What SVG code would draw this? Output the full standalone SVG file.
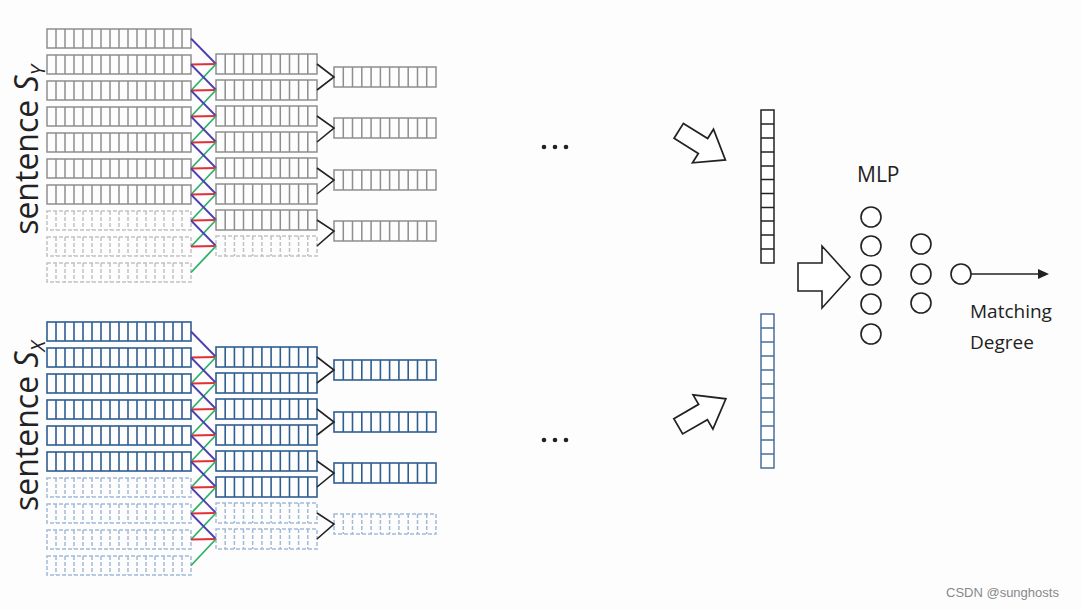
<svg xmlns="http://www.w3.org/2000/svg" width="1082" height="609" viewBox="0 0 1082 609">
<style>
.g{stroke:#8e8e8e;stroke-width:1.5;fill:none}
.gd{stroke:#c2c2c2;stroke-width:1.5;fill:none;stroke-dasharray:4 2}
.b{stroke:#2f5e91;stroke-width:1.6;fill:none}
.bd{stroke:#a3bad6;stroke-width:1.5;fill:none;stroke-dasharray:4 2}
.k{stroke:#222;stroke-width:1.6;fill:none}
.t{font-family:"Open Sans","Liberation Sans",sans-serif;fill:#222}
.c{fill:#fff;stroke:#222;stroke-width:1.6}
.ar{fill:#fff;stroke:#222;stroke-width:1.6;stroke-linejoin:miter}
</style>
<defs>
<g id="L"><rect x="0" y="0" width="144" height="19"/><path d="M9 0v19M18 0v19M27 0v19M36 0v19M45 0v19M54 0v19M63 0v19M72 0v19M81 0v19M90 0v19M99 0v19M108 0v19M117 0v19M126 0v19M135 0v19"/></g>
<g id="M"><rect x="0" y="0" width="101" height="20"/><path d="M9.2 0v20M18.4 0v20M27.5 0v20M36.7 0v20M45.9 0v20M55.1 0v20M64.3 0v20M73.5 0v20M82.6 0v20M91.8 0v20"/></g>
<g id="R"><rect x="0" y="0" width="102" height="20"/><path d="M9.3 0v20M18.5 0v20M27.8 0v20M37.1 0v20M46.4 0v20M55.6 0v20M64.9 0v20M74.2 0v20M83.5 0v20M92.7 0v20"/></g>
<g id="X" stroke-width="1.8" fill="none"><path d="M0 0L25 25.5" stroke="#4b3fb0"/><path d="M0 26L25 25.5" stroke="#e0303a"/><path d="M0 52L25 25.5" stroke="#2eb06a"/></g>
<path id="A" d="M-26 -8H0V-18L24 0L0 18V8H-26Z"/>
</defs>
<rect width="1082" height="609" fill="#fdfdfd"/>
<g id="sentenceY">
<g class="g">
<use href="#L" x="47" y="29"/><use href="#L" x="47" y="55"/><use href="#L" x="47" y="81"/><use href="#L" x="47" y="107"/><use href="#L" x="47" y="133"/><use href="#L" x="47" y="159"/><use href="#L" x="47" y="185"/>
<use href="#M" x="216" y="54"/><use href="#M" x="216" y="80"/><use href="#M" x="216" y="106"/><use href="#M" x="216" y="132"/><use href="#M" x="216" y="158"/><use href="#M" x="216" y="184"/><use href="#M" x="216" y="210"/>
<use href="#R" x="334" y="67"/><use href="#R" x="334" y="118"/><use href="#R" x="334" y="170"/><use href="#R" x="334" y="221"/>
</g>
<g class="gd">
<use href="#L" x="47" y="211"/><use href="#L" x="47" y="237"/><use href="#L" x="47" y="263"/>
<use href="#M" x="216" y="236"/>
</g>
<text class="t" font-size="32" transform="translate(38,150) rotate(-90)" text-anchor="middle">sentence <tspan font-style="italic">S</tspan><tspan font-style="italic" font-size="20" dy="7">Y</tspan></text>
</g>
<g id="sentenceX">
<g class="b">
<use href="#L" x="47" y="322"/><use href="#L" x="47" y="348"/><use href="#L" x="47" y="374"/><use href="#L" x="47" y="400"/><use href="#L" x="47" y="426"/><use href="#L" x="47" y="452"/>
<use href="#M" x="216" y="347"/><use href="#M" x="216" y="373"/><use href="#M" x="216" y="399"/><use href="#M" x="216" y="425"/><use href="#M" x="216" y="451"/><use href="#M" x="216" y="477"/>
<use href="#R" x="334" y="360"/><use href="#R" x="334" y="412"/><use href="#R" x="334" y="463"/>
</g>
<g class="bd">
<use href="#L" x="47" y="478"/><use href="#L" x="47" y="504"/><use href="#L" x="47" y="530"/><use href="#L" x="47" y="556"/>
<use href="#M" x="216" y="503"/><use href="#M" x="216" y="529"/>
<use href="#R" x="334" y="514"/>
</g>
<text class="t" font-size="32" transform="translate(38,426) rotate(-90)" text-anchor="middle">sentence <tspan font-style="italic">S</tspan><tspan font-style="italic" font-size="20" dy="7">X</tspan></text>
</g>
<g id="connectors">
<use href="#X" x="191" y="38.5"/><use href="#X" x="191" y="64.5"/><use href="#X" x="191" y="90.5"/><use href="#X" x="191" y="116.5"/><use href="#X" x="191" y="142.5"/><use href="#X" x="191" y="168.5"/><use href="#X" x="191" y="194.5"/><use href="#X" x="191" y="220.5"/>
<use href="#X" x="191" y="331.5"/><use href="#X" x="191" y="357.5"/><use href="#X" x="191" y="383.5"/><use href="#X" x="191" y="409.5"/><use href="#X" x="191" y="435.5"/><use href="#X" x="191" y="461.5"/><use href="#X" x="191" y="487.5"/><use href="#X" x="191" y="513.5"/>
<path class="k" d="M317 64L334 77L317 90M317 116L334 128L317 142M317 168L334 180L317 194M317 220L334 231L317 246"/>
<path class="k" d="M317 357L334 370L317 383M317 409L334 422L317 435M317 461L334 473L317 487M317 513L334 524L317 539"/>
<use href="#A" class="ar" transform="translate(703,146) rotate(32) scale(1.1)"/>
<use href="#A" class="ar" transform="translate(703,412) rotate(-30) scale(1.1)"/>
<path class="ar" d="M798 263H822V246L850 277L822 308V291H798Z"/>
<path d="M971 274H1040" stroke="#222" stroke-width="1.6"/>
<path d="M1038 269L1049 274L1038 279Z" fill="#222"/>
</g>
<g id="dots" fill="#222"><circle cx="544" cy="147" r="2.3"/><circle cx="555" cy="147" r="2.3"/><circle cx="566" cy="147" r="2.3"/><circle cx="544" cy="440" r="2.3"/><circle cx="555" cy="440" r="2.3"/><circle cx="566" cy="440" r="2.3"/></g>
<g id="vecY" fill="#fff" stroke="#222" stroke-width="1.5"><rect x="761" y="110" width="13" height="153"/><path d="M761 124H774M761 138H774M761 152H774M761 166H774M761 179.5H774M761 193.5H774M761 207.5H774M761 221H774M761 235H774M761 249H774" fill="none"/></g>
<g id="vecX" fill="#fff" stroke="#4a6f9a" stroke-width="1.5"><rect x="761" y="314" width="13" height="154"/><path d="M761 328H774M761 342H774M761 356H774M761 370H774M761 384H774M761 398H774M761 412H774M761 426H774M761 440H774M761 454H774" fill="none"/></g>
<g id="mlp">
<text class="t" x="857" y="182" font-size="21">MLP</text>
<circle class="c" cx="871" cy="217" r="10"/><circle class="c" cx="871" cy="246" r="10"/><circle class="c" cx="871" cy="275" r="10"/><circle class="c" cx="871" cy="304" r="10"/><circle class="c" cx="871" cy="334" r="10"/>
<circle class="c" cx="921" cy="244" r="10"/><circle class="c" cx="921" cy="274" r="10"/><circle class="c" cx="921" cy="303" r="10"/>
</g>
<g id="out">
<circle class="c" cx="961" cy="274" r="10"/>
<text class="t" x="970" y="318" font-size="19" fill="#333">Matching</text>
<text class="t" x="970" y="349" font-size="19" fill="#333">Degree</text>
</g>
<text x="946" y="597" font-family="Liberation Sans,sans-serif" font-size="13" fill="#888">CSDN @sunghosts</text>
</svg>
